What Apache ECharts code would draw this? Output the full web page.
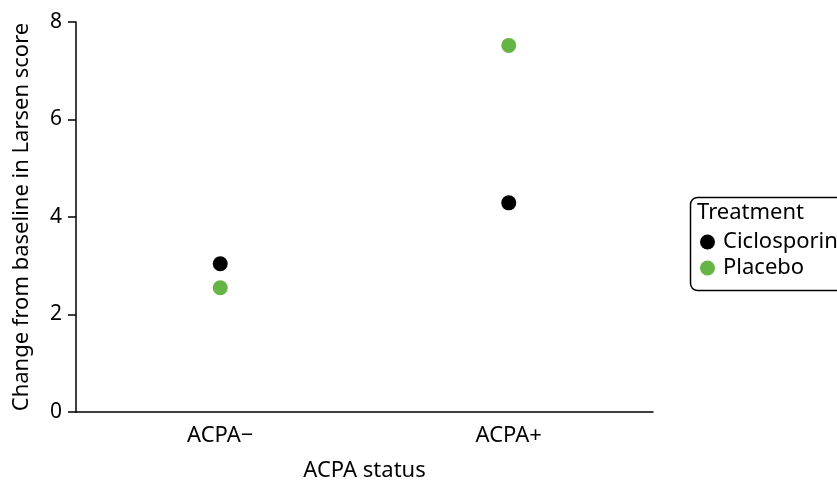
<!DOCTYPE html>
<html><head><meta charset="utf-8">
<script src="https://cdn.jsdelivr.net/npm/echarts@6/dist/echarts.min.js"></script>
<style>html,body{margin:0;padding:0;background:#fff}#c{width:837px;height:482px}</style>
</head><body><div id="c"></div>
<script>
const categories = ['ACPA\u2212', 'ACPA+'];
const ciclosporin = [3.04, 4.29];
const placebo = [2.55, 7.52];
const yTicks = [0, 2, 4, 6, 8];
const FONT = 'Noto Sans';
const chart = echarts.init(document.getElementById('c'));
chart.setOption({
  backgroundColor: '#fff',
  animation: false,
  textStyle: {fontFamily: FONT},
  grid: {left: 76, right: 184, top: 22, bottom: 70, containLabel: false, outerBoundsMode: 'none'},
  xAxis: {
    type: 'category', data: categories, boundaryGap: true,
    name: 'ACPA status', nameLocation: 'middle', nameGap: 48,
    nameTextStyle: {fontSize: 22, color: '#000', fontFamily: FONT},
    axisLine: {lineStyle: {color: '#000', width: 1.5}},
    axisTick: {show: false},
    axisLabel: {fontSize: 22, color: '#000', margin: 13, fontFamily: FONT}
  },
  yAxis: {
    type: 'value', min: 0, max: 8, interval: 2,
    name: 'Change from baseline in Larsen score', nameLocation: 'middle', nameGap: 43,
    nameTextStyle: {fontSize: 22, color: '#000', fontFamily: FONT},
    axisLine: {show: true, lineStyle: {color: '#000', width: 1.5}},
    axisTick: {show: true, length: 8, lineStyle: {color: '#000', width: 1.5}},
    axisLabel: {fontSize: 21, color: '#000', margin: 14, fontFamily: FONT,
      formatter: v => yTicks.includes(v) ? String(v) : ''},
    splitLine: {show: false}
  },
  legend: {
    orient: 'vertical', left: 695, top: 226, itemGap: 4,
    itemWidth: 15, itemHeight: 15, icon: 'circle',
    itemStyle: {opacity: 1},
    textStyle: {fontSize: 22, color: '#000', fontFamily: FONT, padding: [0,0,0,3]},
    data: ['Ciclosporin', 'Placebo']
  },
  graphic: [
    {type: 'rect', left: 688, top: 195, shape: {width: 170, height: 93, r: 7},
     style: {fill: 'none', stroke: '#000', lineWidth: 1.5}},
    {type: 'text', left: 697, top: 202, style: {text: 'Treatment', fontSize: 22, fill: '#000', fontFamily: FONT}}
  ],
  series: [
    {name: 'Ciclosporin', type: 'scatter', data: ciclosporin, symbolSize: 15,
     itemStyle: {color: '#000', opacity: 1}},
    {name: 'Placebo', type: 'scatter', data: placebo, symbolSize: 15,
     itemStyle: {color: '#66b445', opacity: 1}}
  ]
});
</script></body></html>
